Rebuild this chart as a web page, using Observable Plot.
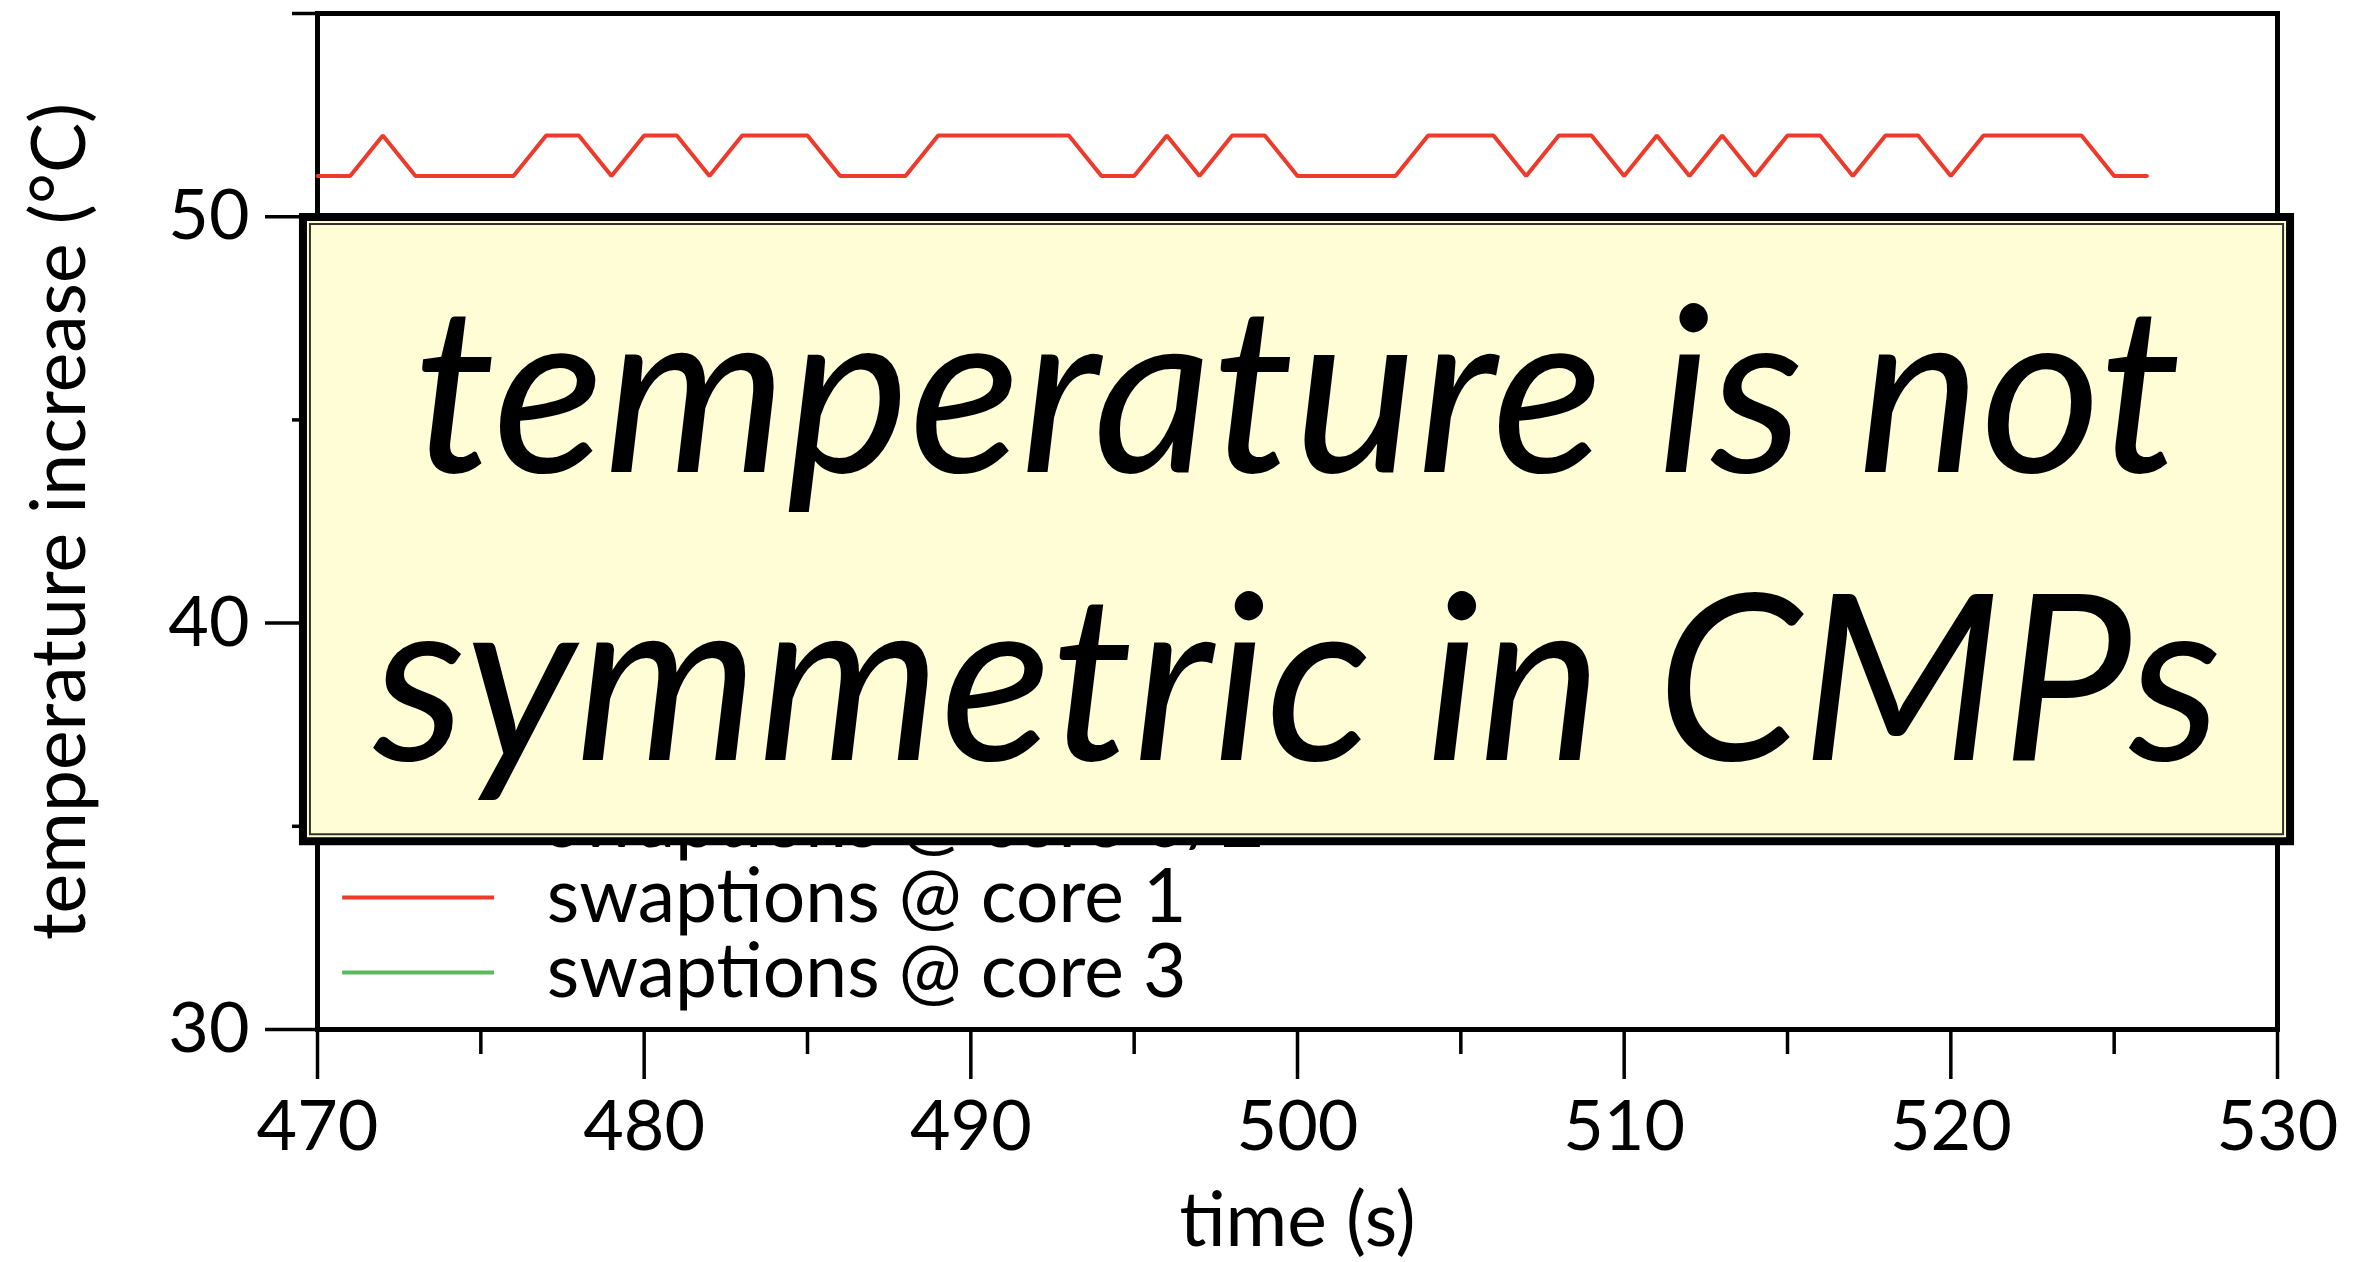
<!DOCTYPE html>
<html>
<head>
<meta charset="utf-8">
<script src="https://cdn.jsdelivr.net/npm/d3@7"></script>
<script src="https://cdn.jsdelivr.net/npm/@observablehq/plot@0.6"></script>
<style>
  html, body { margin: 0; padding: 0; background: #fff; }
  #chart svg { display: block; }
</style>
</head>
<body>
<div id="chart"></div>
<script>
// Sample times (s)
const time = [
  470, 471, 472, 473, 474, 475, 476, 477, 478, 479,
  480, 481, 482, 483, 484, 485, 486, 487, 488, 489,
  490, 491, 492, 493, 494, 495, 496, 497, 498, 499,
  500, 501, 502, 503, 504, 505, 506, 507, 508, 509,
  510, 511, 512, 513, 514, 515, 516, 517, 518, 519,
  520, 521, 522, 523, 524, 525, 526
];

// Temperature increase (°C) per core
const core02 = [
  48, 48, 48, 48, 48, 48, 48, 48, 48, 48,
  48, 48, 48, 48, 48, 48, 48, 48, 48, 48,
  48, 48, 48, 48, 48, 48, 48, 48, 48, 48,
  48, 48, 48, 48, 48, 48, 48, 48, 48, 48,
  48, 48, 48, 48, 48, 48, 48, 48, 48, 48,
  48, 48, 48, 48, 48, 48, 48
];
const core1 = [
  51, 51, 52, 51, 51, 51, 51, 52, 52, 51,
  52, 52, 51, 52, 52, 52, 51, 51, 51, 52,
  52, 52, 52, 52, 51, 51, 52, 51, 52, 52,
  51, 51, 51, 51, 52, 52, 52, 51, 52, 52,
  51, 52, 51, 52, 51, 52, 52, 51, 52, 52,
  51, 52, 52, 52, 52, 51, 51
];
const core3 = [
  49, 49, 49, 49, 49, 50, 49, 49, 50, 49,
  49, 49, 49, 49, 49, 49, 49, 49, 49, 49,
  49, 49, 49, 49, 49, 50, 49, 49, 49, 49,
  49, 49, 49, 49, 49, 49, 49, 49, 49, 49,
  49, 49, 49, 49, 49, 49, 49, 49, 49, 49,
  49, 49, 49, 50, 49, 49, 49
];

const seriesNames = ["swaptions @ core 0/2", "swaptions @ core 1", "swaptions @ core 3"];
const seriesColors = ["#3b6fc4", "#ee3a2b", "#5cb85c"];

const xMajorTicks = [470, 480, 490, 500, 510, 520, 530];
const xMinorTicks = [475, 485, 495, 505, 515, 525];
const yMajorTicks = [30, 40, 50];
const yMinorTicks = [35, 45, 55];

const xLabel = "time (s)";
const yLabel = "temperature increase (°C)";
const calloutLines = ["temperature is not", "symmetric in CMPs"];

// Long-format table for the line mark
const seriesValues = [core02, core1, core3];
const rows = seriesNames.flatMap((name, s) =>
  time.map((t, i) => ({ t, v: seriesValues[s][i], series: name }))
);

// Layout of the in-plot legend and the callout (data units)
const legendRowY = (i) => 35.09 - 1.845 * i;
const legendSwatch = { x1: 470.77, x2: 475.42, textX: 477.02 };
const callout = { x1: 469.57, x2: 530.40, y1: 34.62, y2: 49.98 };
const calloutBaselines = [43.71, 36.62];

const chart = Plot.plot({
  width: 2353,
  height: 1262,
  marginLeft: 317,
  marginRight: 76,
  marginTop: 13,
  marginBottom: 233,
  style: { fontFamily: "Lato, 'Open Sans', sans-serif", background: "white", overflow: "visible", color: "black" },
  x: { domain: [470, 530] },
  y: { domain: [30, 55] },
  color: { domain: seriesNames, range: seriesColors },
  marks: [
    Plot.axisX({ ticks: xMajorTicks, tickSize: 50, tickPadding: 21, strokeWidth: 3.5, fontSize: 70, label: null }),
    Plot.axisX({ ticks: xMinorTicks, tickSize: 25, strokeWidth: 3.5, tickFormat: () => "", label: null }),
    Plot.axisY({ ticks: yMajorTicks, tickSize: 52, tickPadding: 16, strokeWidth: 3.5, fontSize: 70, label: null }),
    Plot.axisY({ ticks: yMinorTicks, tickSize: 25, strokeWidth: 3.5, tickFormat: () => "", label: null }),
    Plot.frame({ stroke: "black", strokeWidth: 5 }),

    Plot.line(rows, { x: "t", y: "v", z: "series", stroke: "series", strokeWidth: 4, strokeLinejoin: "miter" }),

    // legend
    Plot.ruleY(seriesNames, { y: (d, i) => legendRowY(i), x1: () => legendSwatch.x1, x2: () => legendSwatch.x2, stroke: (d) => d, strokeWidth: 4 }),
    Plot.text(seriesNames, { x: () => legendSwatch.textX, y: (d, i) => legendRowY(i), text: (d) => d, textAnchor: "start", lineAnchor: "middle", fontSize: 75, fill: "black" }),

    // callout box
    Plot.rect([callout], { x1: "x1", x2: "x2", y1: "y1", y2: "y2", fill: "#fffdd6" }),
    Plot.rect([callout], { x1: "x1", x2: "x2", y1: "y1", y2: "y2", fill: "none", stroke: "black", strokeWidth: 8, ariaLabel: "callout-edge" }),
    Plot.rect([callout], { x1: "x1", x2: "x2", y1: "y1", y2: "y2", inset: 7, fill: "none", stroke: "black", strokeWidth: 2, strokeOpacity: 0.8, ariaLabel: "callout-edge-inner" }),
    Plot.text(calloutLines, { x: () => 500, y: (d, i) => calloutBaselines[i], text: (d) => d, fontSize: 232, fontStyle: "italic", lineAnchor: "bottom", fill: "black" }),

    // axis titles
    Plot.text([yLabel], { frameAnchor: "left", textAnchor: "middle", lineAnchor: "middle", rotate: -90, dx: -257, text: (d) => d, fontSize: 75, fill: "black" }),
    Plot.text([xLabel], { frameAnchor: "bottom", dy: 216, text: (d) => d, fontSize: 75, lineAnchor: "bottom", fill: "black" })
  ]
});

// hand-drawn roughness for the callout edge
const svg = d3.select(chart);
const defs = svg.insert("defs", ":first-child");
const rough = defs.append("filter").attr("id", "rough-edge").attr("x", "-5%").attr("y", "-5%").attr("width", "110%").attr("height", "110%");
rough.append("feTurbulence").attr("type", "fractalNoise").attr("baseFrequency", "0.03 0.6").attr("numOctaves", 2).attr("seed", 7).attr("result", "noise");
rough.append("feDisplacementMap").attr("in", "SourceGraphic").attr("in2", "noise").attr("scale", 6).attr("xChannelSelector", "R").attr("yChannelSelector", "G");
svg.selectAll('g[aria-label="callout-edge"], g[aria-label="callout-edge-inner"]').attr("filter", "url(#rough-edge)");

document.getElementById("chart").appendChild(chart);
</script>
</body>
</html>
